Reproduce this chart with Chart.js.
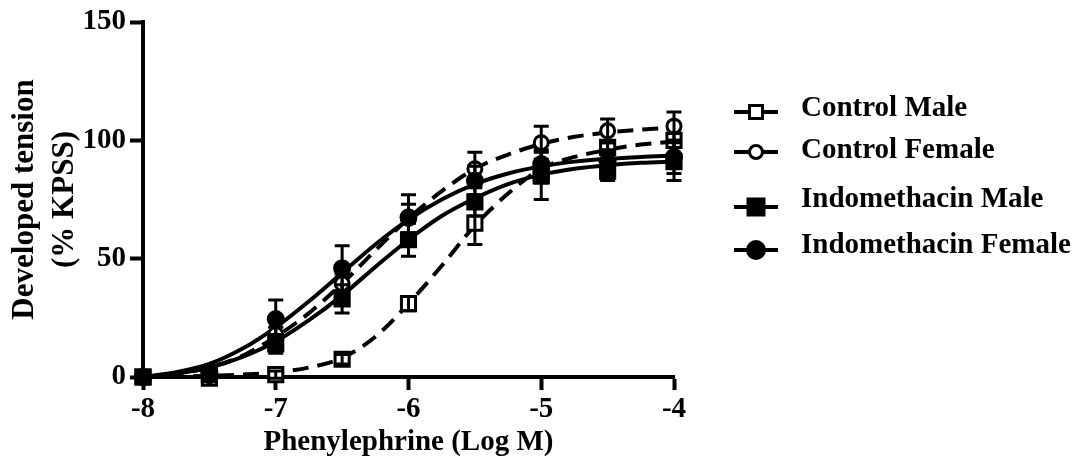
<!DOCTYPE html>
<html>
<head>
<meta charset="utf-8">
<script src="https://cdn.jsdelivr.net/npm/chart.js@4.4.0/dist/chart.umd.min.js"></script>
<style>
  html, body { margin: 0; padding: 0; background: #fff; }
  canvas { display: block; }
</style>
</head>
<body>
<canvas id="chart" width="1082" height="472"></canvas>
<script>
// Concentrations (log M) where the tension was measured
const doses = [-8, -7.5, -7, -6.5, -6, -5.5, -5, -4.5, -4];

// Mean developed tension (% KPSS) and SEM
const ctrlMaleMean = [0, -0.5, 1, 7.5, 31, 65, 86, 97, 100];
const ctrlMaleSem = [0, 1, 1.5, 2, 3, 9, 4, 2, 3];
const ctrlFemaleMean = [0, 0.5, 18, 39.5, 67, 88, 99, 104, 106];
const ctrlFemaleSem = [0, 1, 3, 4, 6, 7, 7, 5, 6];
const indoMaleMean = [0, 1, 14, 33, 58, 74, 85, 87, 91];
const indoMaleSem = [0, 1, 4, 6, 7, 6, 10, 4, 8];
const indoFemaleMean = [0, 2, 24.5, 46, 67.5, 83, 90, 91, 93];
const indoFemaleSem = [0, 1, 8, 9.5, 9.5, 6, 6, 5, 7];

// Fitted concentration-response curves
const curveX = [-8, -7.75, -7.5, -7.25, -7, -6.75, -6.5, -6.25, -6, -5.75, -5.5, -5.25, -5, -4.75, -4.5, -4.25, -4];
const ctrlMaleFit = [0, 0.2, 0.5, 1, 2, 4, 8, 17, 31, 47, 64, 77.5, 88, 93, 96, 98.2, 99.5];
const ctrlFemaleFit = [0, 1.5, 4, 9, 17, 27, 39.5, 53.5, 67, 78.5, 88, 94, 98.5, 101.5, 103.3, 104.5, 105.5];
const indoMaleFit = [0, 1.5, 4, 8.5, 15, 24, 34.5, 46.5, 58, 68, 75.5, 81.5, 85.5, 88, 89.5, 90.5, 91];
const indoFemaleFit = [0, 2, 5.5, 12, 21, 32, 44, 56, 66.5, 75, 81.5, 86, 89, 91, 92.2, 93, 93.5];

const seriesNames = ['Control Male', 'Control Female', 'Indomethacin Male', 'Indomethacin Female'];
const xTicks = [-8, -7, -6, -5, -4];
const yTicks = [0, 50, 100, 150];

const fontFamily = "'Liberation Serif', 'Times New Roman', serif";

function toPoints(xs, ys) {
    return xs.map((x, i) => ({ x: x, y: ys[i] }));
}

function curveSet(name, ys, dashed) {
    return {
        label: name + ' fit',
        data: toPoints(curveX, ys),
        showLine: true,
        borderColor: '#000',
        borderWidth: 4,
        borderDash: dashed ? [16, 9] : [],
        cubicInterpolationMode: 'monotone',
        pointRadius: 0,
        clip: false,
        order: 10
    };
}

// lower order is drawn on top, so Indomethacin Female ends up uppermost
function markerSet(name, ys, sem, style, filled, radius, order) {
    return {
        label: name,
        data: toPoints(doses, ys),
        errors: sem,
        showLine: false,
        pointStyle: style,
        pointRadius: radius,
        pointBorderWidth: 3,
        pointBorderColor: '#000',
        pointBackgroundColor: filled ? '#000' : '#fff',
        clip: false,
        order: order
    };
}

// Error bars (mean +/- SEM) on top of the markers
const errorBars = {
    id: 'errorBars',
    afterDatasetsDraw(chart) {
        const ctx = chart.ctx;
        const xs = chart.scales.x, ys = chart.scales.y;
        ctx.save();
        ctx.strokeStyle = '#000';
        ctx.lineWidth = 3;
        chart.data.datasets.forEach(ds => {
            if (!ds.errors) return;
            ds.data.forEach((p, i) => {
                const e = ds.errors[i];
                if (!e) return;
                const px = xs.getPixelForValue(p.x);
                const top = ys.getPixelForValue(p.y + e);
                const bot = ys.getPixelForValue(p.y - e);
                ctx.beginPath();
                ctx.moveTo(px, top);
                ctx.lineTo(px, bot);
                ctx.moveTo(px - 7.5, top);
                ctx.lineTo(px + 7.5, top);
                ctx.moveTo(px - 7.5, bot);
                ctx.lineTo(px + 7.5, bot);
                ctx.stroke();
            });
        });
        ctx.restore();
    }
};

// Legend on the right: short line with the marker in the middle
const sideLegend = {
    id: 'sideLegend',
    afterDraw(chart, args, opts) {
        const ctx = chart.ctx;
        ctx.save();
        ctx.font = 'bold 29px ' + fontFamily;
        ctx.textBaseline = 'middle';
        ctx.textAlign = 'left';
        ctx.fillStyle = '#000';
        opts.items.forEach((it, i) => {
            const sy = opts.symbolY[i];
            ctx.strokeStyle = '#000';
            ctx.lineWidth = 4;
            ctx.beginPath();
            ctx.moveTo(opts.x0, sy);
            ctx.lineTo(opts.x1, sy);
            ctx.stroke();
            const cx = (opts.x0 + opts.x1) / 2;
            ctx.lineWidth = 3;
            ctx.beginPath();
            if (it.style === 'rect') {
                const h = it.filled ? 8 : 6.5;
                ctx.rect(cx - h, sy - h, 2 * h, 2 * h);
            } else {
                ctx.arc(cx, sy, it.filled ? 8.5 : 6.5, 0, Math.PI * 2);
            }
            ctx.fillStyle = it.filled ? '#000' : '#fff';
            ctx.fill();
            ctx.stroke();
            ctx.fillStyle = '#000';
            ctx.fillText(it.label, opts.textX, opts.textY[i]);
        });
        ctx.restore();
    }
};

const tickFont = { family: fontFamily, size: 29, weight: 'bold' };

new Chart(document.getElementById('chart'), {
    type: 'scatter',
    data: {
        datasets: [
            markerSet(seriesNames[0], ctrlMaleMean, ctrlMaleSem, 'rect', false, 10, 4),
            markerSet(seriesNames[1], ctrlFemaleMean, ctrlFemaleSem, 'circle', false, 7, 3),
            markerSet(seriesNames[2], indoMaleMean, indoMaleSem, 'rect', true, 10, 2),
            markerSet(seriesNames[3], indoFemaleMean, indoFemaleSem, 'circle', true, 7.5, 1),
            curveSet(seriesNames[0], ctrlMaleFit, true),
            curveSet(seriesNames[1], ctrlFemaleFit, true),
            curveSet(seriesNames[2], indoMaleFit, false),
            curveSet(seriesNames[3], indoFemaleFit, false)
        ]
    },
    options: {
        responsive: false,
        animation: false,
        layout: { padding: { top: 22, right: 408, bottom: 0, left: 0 } },
        plugins: {
            legend: { display: false },
            tooltip: { enabled: false },
            sideLegend: {
                items: [
                    { label: seriesNames[0], style: 'rect', filled: false },
                    { label: seriesNames[1], style: 'circle', filled: false },
                    { label: seriesNames[2], style: 'rect', filled: true },
                    { label: seriesNames[3], style: 'circle', filled: true }
                ],
                x0: 734,
                x1: 778,
                textX: 801,
                symbolY: [112, 152, 207, 250],
                textY: [109, 151, 200, 246]
            }
        },
        scales: {
            x: {
                type: 'linear',
                min: xTicks[0],
                max: xTicks[xTicks.length - 1],
                afterFit: s => { s.height = 95; },
                afterBuildTicks: s => { s.ticks = xTicks.map(v => ({ value: v })); },
                border: { display: true, color: '#000', width: 4 },
                grid: { display: true, drawOnChartArea: false, drawTicks: true, tickLength: 13, tickWidth: 4, tickColor: '#000', color: '#000' },
                ticks: { color: '#000', font: tickFont, padding: 2, maxRotation: 0 },
                title: {
                    display: true,
                    text: 'Phenylephrine (Log M)',
                    color: '#000',
                    font: { family: fontFamily, size: 29, weight: 'bold', lineHeight: 1.2 },
                    padding: { top: 0, bottom: 12 }
                }
            },
            y: {
                type: 'linear',
                min: yTicks[0],
                max: yTicks[yTicks.length - 1],
                afterFit: s => { s.width = 143; },
                afterBuildTicks: s => { s.ticks = yTicks.map(v => ({ value: v })); },
                border: { display: true, color: '#000', width: 4 },
                grid: { display: true, drawOnChartArea: false, drawTicks: true, tickLength: 13, tickWidth: 4, tickColor: '#000', color: '#000' },
                ticks: { color: '#000', font: tickFont, padding: 4 },
                title: {
                    display: true,
                    text: ['Developed tension', '(% KPSS)'],
                    color: '#000',
                    font: { family: fontFamily, size: 31, weight: 'bold', lineHeight: 1.3 },
                    padding: { top: 5, bottom: 0 }
                }
            }
        }
    },
    plugins: [errorBars, sideLegend]
});
</script>
</body>
</html>
